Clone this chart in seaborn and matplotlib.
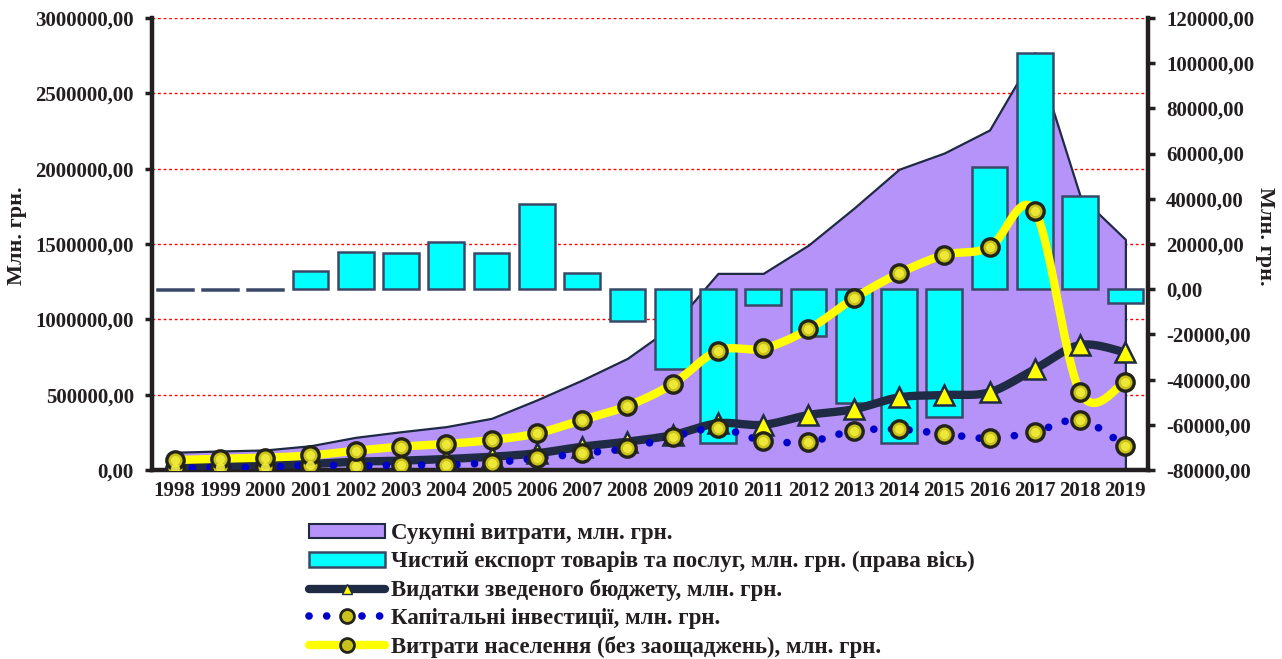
import numpy as np
import pandas as pd
import matplotlib
matplotlib.use("Agg")
import matplotlib.pyplot as plt
import seaborn as sns
from matplotlib.lines import Line2D
from matplotlib.patches import Patch
from matplotlib.ticker import FuncFormatter, MultipleLocator, FixedLocator

# --- дані (млн. грн.) ---
years = ['1998', '1999', '2000', '2001', '2002', '2003', '2004', '2005', '2006', '2007', '2008',
         '2009', '2010', '2011', '2012', '2013', '2014', '2015', '2016', '2017', '2018', '2019']
total_spending = [118000, 126000, 133000, 161000, 217000, 254000, 288000, 343000, 465000, 597000, 741000,
                  955000, 1305000, 1305000, 1493000, 1737000, 1996000, 2104000, 2257000, 2770000, 1819000, 1531000]
net_export = [-400, -400, -300, 8200, 16300, 15900, 21000, 15900, 37700, 7000, -13900,
              -35400, -68200, -7000, -20700, -50500, -68200, -56400, 53900, 104700, 41400, -6000]
budget = [27000, 29000, 33000, 40000, 55000, 62000, 73000, 88000, 111000, 155000, 188000,
          232000, 310000, 300000, 365000, 403000, 482000, 498000, 516000, 670000, 830000, 781000]
capital = [11000, 18000, 17000, 33000, 27000, 33000, 33000, 49000, 77000, 111000, 144000,
           221000, 277000, 195000, 188000, 260000, 270000, 239000, 210000, 254000, 332000, 159000]
household = [66000, 75000, 82000, 97000, 128000, 155000, 173000, 199000, 243000, 332000, 425000,
             571000, 792000, 807000, 934000, 1139000, 1305000, 1427000, 1478000, 1719000, 516000, 586000]

labels = ['Сукупні витрати, млн. грн.',
          'Чистий експорт товарів та послуг, млн. грн. (права вісь)',
          'Видатки зведеного бюджету, млн. грн.',
          'Капітальні інвестиції, млн. грн.',
          'Витрати населення (без заощаджень), млн. грн.']

AREA = '#B693F8'
NAVY = '#1F2A44'
CYAN = '#00FFFF'
BAR_EDGE = '#3A4868'
BLUE = '#0000CC'
YELLOW = '#FFFF00'
BALL = '#C9C21A'
BALL_HI = '#F2EC3C'
BALL_EDGE = '#23231A'
INK = '#231F20'


def smooth(xs, ys, steps=24):
    # згладжування як в Excel (безьє через сусідні точки)
    xs = np.asarray(xs, float)
    ys = np.asarray(ys, float)
    n = len(xs)
    out_x, out_y = [], []
    t = np.linspace(0, 1, steps)
    for i in range(n - 1):
        i0, i3 = max(i - 1, 0), min(i + 2, n - 1)
        p1 = np.array([xs[i], ys[i]])
        p2 = np.array([xs[i + 1], ys[i + 1]])
        c1 = p1 + (p2 - np.array([xs[i0], ys[i0]])) / 6
        c2 = p2 - (np.array([xs[i3], ys[i3]]) - p1) / 6
        pts = ((1 - t) ** 3)[:, None] * p1 + (3 * (1 - t) ** 2 * t)[:, None] * c1 \
            + (3 * (1 - t) * t ** 2)[:, None] * c2 + (t ** 3)[:, None] * p2
        out_x.extend(pts[:, 0])
        out_y.extend(pts[:, 1])
    return np.array(out_x), np.array(out_y)


def fmt(v, pos):
    return f'{v:.2f}'.replace('.', ',')


def balls(a, x, y):
    # "кульки" з відблиском
    a.plot(x, y, linestyle='none', marker='o', markersize=12.5,
           markerfacecolor=BALL, markeredgecolor=BALL_EDGE, markeredgewidth=2.4, zorder=6)
    a.plot(x, y, linestyle='none', marker='o', markersize=6.5,
           markerfacecolor=BALL_HI, markeredgewidth=0, alpha=0.9, zorder=7)


sns.set_theme(style='white')
plt.rcParams['font.family'] = ['Liberation Serif', 'DejaVu Serif']
plt.rcParams['font.weight'] = 'bold'

df = pd.DataFrame({'year': years, 'total': total_spending, 'export': net_export,
                   'budget': budget, 'capital': capital, 'household': household})
pos = np.arange(len(df))

fig = plt.figure(figsize=(12.82, 6.59), dpi=100)
ax = fig.add_axes([0.1186, 0.2868, 0.7769, 0.6859])
ax2 = ax.twinx()
ax3 = ax.twinx()

# площа - сукупні витрати (ліва вісь)
ax.fill_between(pos, df['total'], color=AREA, edgecolor=NAVY, linewidth=1.6, zorder=2)
ax.set_ylim(0, 3000000)
ax.yaxis.set_major_locator(MultipleLocator(500000))
ax.yaxis.set_major_formatter(FuncFormatter(fmt))
ax.set_axisbelow(True)
ax.yaxis.grid(True, color='red', linestyle=(0, (2, 2)), linewidth=1)

# стовпці - чистий експорт (права вісь)
sns.barplot(data=df, x='year', y='export', ax=ax2, color=CYAN, saturation=1,
            edgecolor=BAR_EDGE, linewidth=1.8, width=0.79)
ax2.set_ylim(-80000, 120000)
ax2.yaxis.set_major_locator(MultipleLocator(20000))
ax2.yaxis.set_major_formatter(FuncFormatter(fmt))
ax2.set_xlabel('')
ax2.set_ylabel('')

# лінії (ліва шкала)
ax3.set_ylim(0, 3000000)
bx, by = smooth(pos, df['budget'])
cx, cy = smooth(pos, df['capital'])
hx, hy = smooth(pos, df['household'])
ax3.plot(bx, by, color=NAVY, linewidth=6, solid_capstyle='round', zorder=2)
ax3.plot(cx, cy, color=BLUE, linewidth=5.5, linestyle=(0, (0.01, 2.3)),
         dash_capstyle='round', zorder=3)
ax3.plot(hx, hy, color=YELLOW, linewidth=6, solid_capstyle='round', zorder=4)
ax3.plot(pos, df['budget'], linestyle='none', marker='^', markersize=14,
         markerfacecolor=YELLOW, markeredgecolor=NAVY, markeredgewidth=1.8, zorder=5)
balls(ax3, pos, df['capital'])
balls(ax3, pos, df['household'])
ax3.axis('off')

# вісь X
ax.set_xlim(-0.5, len(years) - 0.5)
ax.xaxis.set_major_locator(FixedLocator(np.arange(len(years) + 1) - 0.5))
ax.xaxis.set_minor_locator(FixedLocator(pos))
ax.xaxis.set_major_formatter(FuncFormatter(lambda v, p: ''))
ax.xaxis.set_minor_formatter(FuncFormatter(lambda v, p: years[int(round(v))]))
ax.tick_params(axis='x', which='major', direction='out', length=5, width=2.5, color=INK)
ax.tick_params(axis='x', which='minor', length=0, pad=8, labelsize=15)
ax.tick_params(axis='y', direction='out', length=5, width=2.5, color=INK, pad=8, labelsize=15)
ax2.tick_params(axis='y', direction='out', length=5, width=2.5, color=INK, pad=8, labelsize=15)
for lab in ax.get_xticklabels(minor=True) + ax.get_yticklabels() + ax2.get_yticklabels():
    lab.set_fontweight('bold')
    lab.set_color(INK)

for a in (ax, ax2):
    for s in a.spines.values():
        s.set_visible(False)
ax.spines['left'].set_visible(True)
ax.spines['bottom'].set_visible(True)
ax2.spines['right'].set_visible(True)
for s in (ax.spines['left'], ax.spines['bottom'], ax2.spines['right']):
    s.set_linewidth(3.2)
    s.set_color(INK)
    s.set_zorder(10)

fig.text(17 / 1282, 1 - 236 / 659, 'Млн. грн.', rotation=90, ha='center', va='center',
         fontsize=16, fontweight='bold', color=INK)
fig.text(1265 / 1282, 1 - 236 / 659, 'Млн. грн.', rotation=270, ha='center', va='center',
         fontsize=16, fontweight='bold', color=INK)

# легенда
handles = [
    Patch(facecolor=AREA, edgecolor=NAVY, linewidth=1.5),
    Patch(facecolor=CYAN, edgecolor=BAR_EDGE, linewidth=1.8),
    Line2D([], [], color=NAVY, linewidth=6, marker='^', markersize=7,
           markerfacecolor=YELLOW, markeredgecolor=NAVY, markeredgewidth=1),
    Line2D([], [], color=BLUE, linewidth=5.5, linestyle=(0, (0.01, 2.3)), dash_capstyle='round',
           marker='o', markersize=10, markerfacecolor=BALL, markeredgecolor=BALL_EDGE,
           markeredgewidth=2),
    Line2D([], [], color=YELLOW, linewidth=6, marker='o', markersize=10,
           markerfacecolor=BALL, markeredgecolor=BALL_EDGE, markeredgewidth=2),
]
fig.legend(handles, labels, loc='upper left', bbox_to_anchor=(0.241, 0.206), frameon=False,
           prop={'family': ['Liberation Serif'], 'weight': 'bold', 'size': 16.5},
           handlelength=3.3, handleheight=0.6, handletextpad=0.3, labelspacing=0.3,
           borderpad=0, borderaxespad=0, labelcolor=INK)

fig.savefig('out.png', dpi=100)
